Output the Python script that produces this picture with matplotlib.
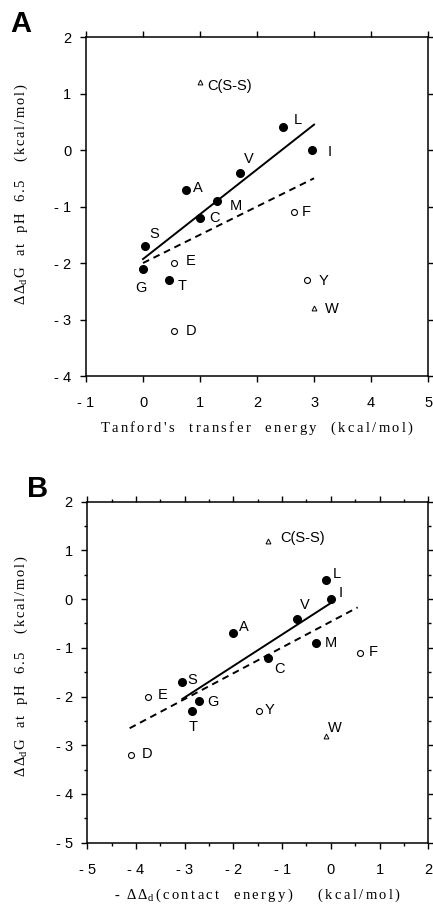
import matplotlib
matplotlib.use("Agg")
import matplotlib.pyplot as plt
from matplotlib.ticker import FuncFormatter, MultipleLocator

# ---- panel A data: Tanford's transfer energy vs ddG ----
a_fill_lab = ['L', 'I', 'V', 'A', 'M', 'C', 'S', 'G', 'T']
a_fill_x = [2.45, 2.97, 1.7, 0.75, 1.3, 1.0, 0.03, 0.0, 0.45]
a_fill_y = [0.4, 0.0, -0.4, -0.7, -0.9, -1.2, -1.7, -2.1, -2.3]
a_open_lab = ['F', 'E', 'Y', 'D']
a_open_x = [2.65, 0.55, 2.88, 0.55]
a_open_y = [-1.1, -2.0, -2.3, -3.2]
a_tri_lab = ['C(S-S)', 'W']
a_tri_x = [1.0, 3.0]
a_tri_y = [1.2, -2.8]
a_solid_x = [0.0, 3.0]
a_solid_y = [-1.93, 0.45]
a_dash_x = [0.0, 3.0]
a_dash_y = [-2.0, -0.5]

# ---- panel B data: contact energy vs ddG ----
b_fill_lab = ['L', 'I', 'V', 'A', 'M', 'C', 'S', 'G', 'T']
b_fill_x = [-0.1, 0.0, -0.7, -2.0, -0.3, -1.3, -3.05, -2.7, -2.85]
b_fill_y = [0.4, 0.0, -0.4, -0.7, -0.9, -1.2, -1.7, -2.1, -2.3]
b_open_lab = ['F', 'E', 'Y', 'D']
b_open_x = [0.6, -3.76, -1.48, -4.1]
b_open_y = [-1.1, -2.0, -2.3, -3.2]
b_tri_lab = ['C(S-S)', 'W']
b_tri_x = [-1.3, -0.1]
b_tri_y = [1.2, -2.8]
b_solid_x = [-3.05, 0.0]
b_solid_y = [-2.05, -0.08]
b_dash_x = [-4.13, 0.55]
b_dash_y = [-2.65, -0.17]

# label offsets (data units) for each point label
a_off = {'L': (0.27, 0.13), 'I': (0.3, -0.03), 'V': (0.16, 0.24), 'A': (0.22, 0.02),
         'M': (0.33, -0.09), 'C': (0.25, 0.0), 'S': (0.17, 0.22), 'G': (-0.04, -0.34),
         'T': (0.24, -0.11), 'F': (0.21, 0.0), 'E': (0.28, 0.03), 'Y': (0.28, -0.02),
         'D': (0.3, -0.01), 'W': (0.32, -0.01), 'C(S-S)': (0.52, -0.07)}
b_off = {'L': (0.22, 0.12), 'I': (0.2, 0.12), 'V': (0.17, 0.27), 'A': (0.22, 0.12),
         'M': (0.3, 0.0), 'C': (0.25, -0.24), 'S': (0.2, 0.05), 'G': (0.27, -0.02),
         'T': (0.03, -0.33), 'F': (0.28, 0.02), 'E': (0.3, 0.03), 'Y': (0.22, 0.03),
         'D': (0.32, 0.03), 'W': (0.18, 0.15), 'C(S-S)': (0.72, 0.05)}

plt.rcParams['font.family'] = ['Liberation Sans', 'DejaVu Sans']
plt.rcParams['mathtext.fontset'] = 'custom'
plt.rcParams['mathtext.rm'] = 'Liberation Serif'
plt.rcParams['mathtext.it'] = 'Liberation Serif:italic'
serif = ['Liberation Serif', 'DejaVu Serif']


def spread(s, sp=r'\,'):
    # letter-spaced text like the original typesetting
    return ('$' + sp + '$').join(s)


wide = r'\>'
xlab_a = '    '.join(spread(w, wide) for w in ["Tanford's", "transfer", "energy", "(kcal/mol)"])
xlab_b = ('-  ' + r'$\Delta\>\Delta_{\rm d}\>$' + spread('(contact', wide) + '    '
          + spread('energy)', wide) + '       ' + spread('(kcal/mol)', wide))
GAP = '   '
ylab = (r'$\Delta\,\Delta_{\rm d}\,$G' + GAP + spread('at') + GAP + spread('pH') + GAP
        + spread('6.5') + '     ' + spread('(kcal/mol)'))


def dash_fmt(v, pos):
    if abs(v) < 1e-9:
        return '0'
    if v < 0:
        return '- %d' % round(-v)
    return '%d' % round(v)


def style_axes(ax, xlim, ylim, minor):
    ax.set_xlim(xlim)
    ax.set_ylim(ylim)
    ax.xaxis.set_major_locator(MultipleLocator(1))
    ax.yaxis.set_major_locator(MultipleLocator(1))
    if minor:
        ax.xaxis.set_minor_locator(MultipleLocator(0.5))
        ax.yaxis.set_minor_locator(MultipleLocator(0.5))
    ax.xaxis.set_major_formatter(FuncFormatter(dash_fmt))
    ax.yaxis.set_major_formatter(FuncFormatter(dash_fmt))
    ax.tick_params(which='both', direction='out', top=True, right=True,
                   labeltop=False, labelright=False, width=1.0, labelsize=10.5)
    ax.tick_params(which='major', length=4.5)
    ax.tick_params(axis='x', which='major', pad=10)
    ax.tick_params(axis='y', which='major', pad=6)
    ax.tick_params(which='minor', length=2.5)
    for s in ax.spines.values():
        s.set_linewidth(1.1)


def draw(ax, fx, fy, fl, ox, oy, ol, tx, ty, tl, sx, sy, dx, dy, off):
    ax.plot(sx, sy, color='black', lw=1.4)
    ax.plot(dx, dy, color='black', lw=1.4, ls=(0, (3.5, 2.5)))
    ax.plot(fx, fy, 'o', color='black', ms=5.5, ls='none')
    ax.plot(ox, oy, 'o', mfc='white', mec='black', mew=0.8, ms=4.3, ls='none')
    ax.plot(tx, ty, '^', mfc='white', mec='black', mew=0.7, ms=3.5, ls='none')
    for xs, ys, ls in ((fx, fy, fl), (ox, oy, ol), (tx, ty, tl)):
        for x, y, t in zip(xs, ys, ls):
            ddx, ddy = off[t]
            ax.text(x + ddx, y + ddy, t, ha='center', va='center', fontsize=10.5)


fig = plt.figure(figsize=(4.33, 9.08), dpi=100)

ax1 = fig.add_axes([0.1986, 0.5859, 0.79, 0.3733])
style_axes(ax1, (-1, 5), (-4, 2), False)
draw(ax1, a_fill_x, a_fill_y, a_fill_lab, a_open_x, a_open_y, a_open_lab,
     a_tri_x, a_tri_y, a_tri_lab, a_solid_x, a_solid_y, a_dash_x, a_dash_y, a_off)
ax1.set_xlabel(xlab_a, family=serif, fontsize=10.5, labelpad=7)
ax1.set_ylabel(ylab, family=serif, fontsize=10.5)
ax1.yaxis.set_label_coords(-0.165, 0.537)
fig.text(0.023, 0.974, 'A', fontsize=21, fontweight='bold', ha='left', va='center')

ax2 = fig.add_axes([0.2016, 0.0719, 0.7875, 0.3756])
style_axes(ax2, (-5, 2), (-5, 2), True)
draw(ax2, b_fill_x, b_fill_y, b_fill_lab, b_open_x, b_open_y, b_open_lab,
     b_tri_x, b_tri_y, b_tri_lab, b_solid_x, b_solid_y, b_dash_x, b_dash_y, b_off)
ax2.set_xlabel(xlab_b, family=serif, fontsize=10.5, labelpad=7)
ax2.set_ylabel(ylab, family=serif, fontsize=10.5)
ax2.yaxis.set_label_coords(-0.167, 0.518)
fig.text(0.062, 0.462, 'B', fontsize=21, fontweight='bold', ha='left', va='center')

fig.savefig('out.png', dpi=100)
